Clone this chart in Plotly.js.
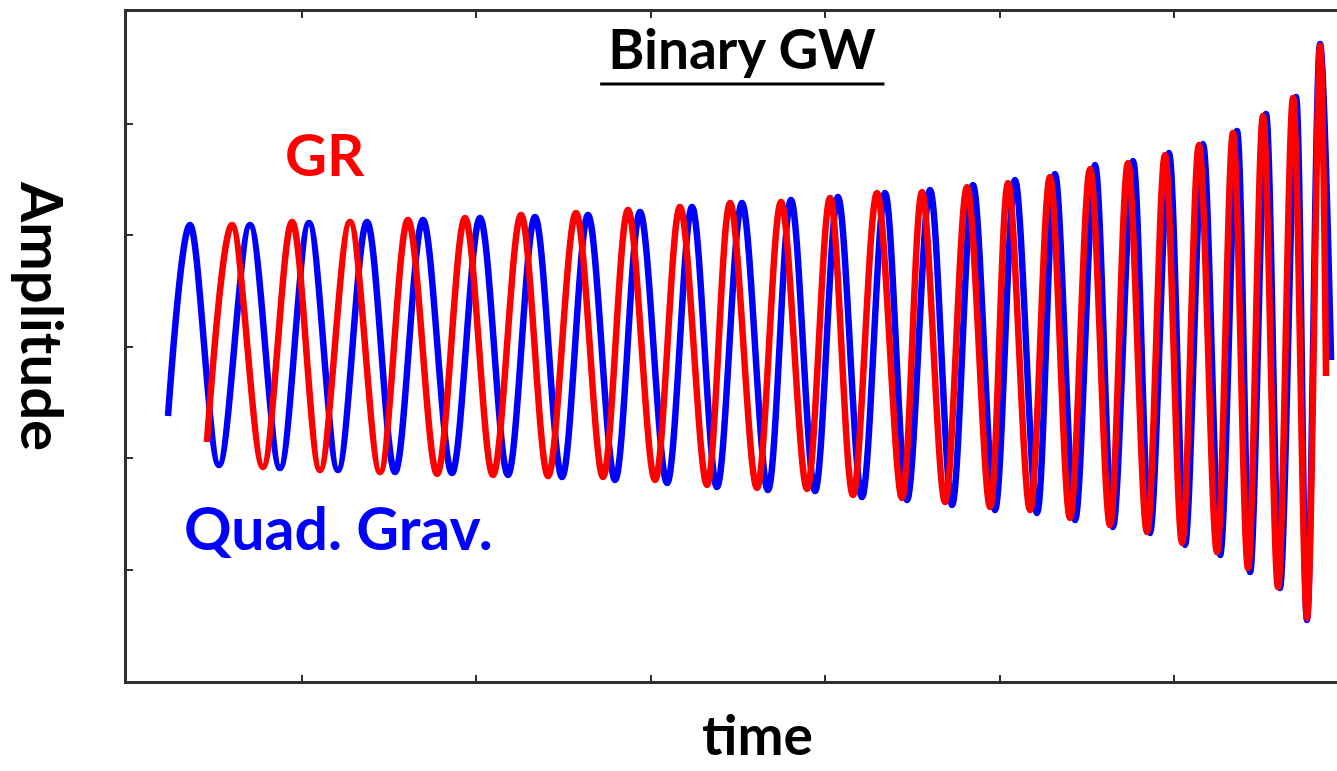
<!DOCTYPE html>
<html>
<head>
<meta charset="utf-8">
<script src="https://cdn.plot.ly/plotly-3.0.1.min.js"></script>
<style>html,body{margin:0;padding:0;background:#fff;}#chart{width:1337px;height:771px;}</style>
</head>
<body>
<div id="chart"></div>
<script>
// Quadratic gravity waveform: extrema (time, amplitude)
const quadTime = [0.235,0.361,0.527,0.705,0.877,1.043,1.209,1.375,1.536,1.696,1.862,2.023,2.183,2.338,2.493,2.642,2.797,2.940,3.095,3.238,3.381,3.524,3.673,3.805,3.943,4.074,4.212,4.344,4.470,4.602,4.728,4.848,4.974,5.089,5.215,5.318,5.433,5.547,5.650,5.765,5.862,5.971,6.063,6.166,6.264,6.361,6.436,6.527,6.607,6.699,6.762,6.837,6.900];
const quadAmp  = [-0.623,1.090,-1.063,1.090,-1.090,1.108,-1.108,1.117,-1.126,1.135,-1.135,1.152,-1.152,1.161,-1.170,1.179,-1.197,1.206,-1.224,1.251,-1.260,1.287,-1.287,1.314,-1.296,1.341,-1.350,1.377,-1.377,1.404,-1.422,1.448,-1.466,1.493,-1.493,1.547,-1.556,1.628,-1.619,1.664,-1.673,1.735,-1.780,1.816,-1.870,1.933,-2.022,2.085,-2.166,2.238,-2.453,2.713,-0.121];

// General relativity waveform
const grTime = [0.458,0.602,0.779,0.946,1.106,1.278,1.450,1.610,1.777,1.937,2.097,2.258,2.413,2.573,2.728,2.871,3.026,3.169,3.324,3.456,3.610,3.748,3.897,4.029,4.160,4.298,4.441,4.556,4.688,4.814,4.946,5.049,5.175,5.289,5.404,5.519,5.633,5.736,5.845,5.948,6.046,6.143,6.246,6.338,6.424,6.510,6.596,6.682,6.762,6.837,6.871];
const grAmp  = [-0.857,1.090,-1.081,1.117,-1.108,1.117,-1.126,1.135,-1.143,1.152,-1.152,1.179,-1.161,1.197,-1.170,1.224,-1.197,1.251,-1.242,1.287,-1.269,1.296,-1.278,1.332,-1.332,1.377,-1.359,1.386,-1.395,1.430,-1.439,1.466,-1.466,1.520,-1.538,1.592,-1.601,1.646,-1.664,1.717,-1.762,1.807,-1.843,1.915,-1.987,2.067,-2.157,2.229,-2.435,2.695,-0.265];

const xTicks = [1,2,3,4,5,6];
const yTicks = [-2,-1,0,1,2];

const FONT = 'Lato, "Open Sans", "Noto Sans", sans-serif';
const AX = '#303030';

const traces = [
  {x: quadTime, y: quadAmp, mode: 'lines', name: 'Quad. Grav.',
   line: {color: '#0000ff', width: 6.5, shape: 'spline', smoothing: 1}},
  {x: grTime, y: grAmp, mode: 'lines', name: 'GR',
   line: {color: '#ff0000', width: 6.5, shape: 'spline', smoothing: 1}}
];

const layout = {
  width: 1337, height: 771,
  margin: {l: 127, r: 0, t: 12, b: 90},
  paper_bgcolor: '#ffffff', plot_bgcolor: '#ffffff',
  showlegend: false,
  font: {family: FONT, color: '#000'},
  title: {text: '<b>Binary GW</b>', font: {family: FONT, size: 55, color: '#000'},
          xref: 'container', yref: 'container', x: 0.555, y: 0.936, xanchor: 'center', yanchor: 'middle'},
  xaxis: {range: [0, 6.934], tickvals: xTicks, showticklabels: false, ticks: 'inside', ticklen: 6, tickwidth: 2,
          tickcolor: AX, showline: true, linecolor: AX, linewidth: 3, mirror: 'ticks',
          showgrid: false, zeroline: false, fixedrange: true},
  yaxis: {range: [-3, 3], tickvals: yTicks, showticklabels: false, ticks: 'inside', ticklen: 6, tickwidth: 2,
          tickcolor: AX, showline: true, linecolor: AX, linewidth: 3, mirror: false,
          showgrid: false, zeroline: false, fixedrange: true},
  shapes: [
    {type: 'line', xref: 'paper', yref: 'paper', x0: 0.391, x1: 0.626, y0: 0.8924, y1: 0.8924,
     line: {color: '#000', width: 3}}
  ],
  annotations: [
    {text: '<b>GR</b>', xref: 'paper', yref: 'paper', x: 0.1636, y: 0.788, xanchor: 'center', yanchor: 'middle',
     showarrow: false, font: {family: FONT, size: 58, color: '#ff0000'}},
    {text: '<b>Quad. Grav.</b>', xref: 'paper', yref: 'paper', x: 0.1744, y: 0.2287, xanchor: 'center', yanchor: 'middle',
     showarrow: false, font: {family: FONT, size: 59, color: '#0000ff'}},
    {text: '<b>Amplitude</b>', xref: 'paper', yref: 'paper', x: -0.0694, y: 0.5456, xanchor: 'center', yanchor: 'middle',
     textangle: 90, showarrow: false, font: {family: FONT, size: 58, color: '#000'}},
    {text: '<b>time</b>', xref: 'paper', yref: 'paper', x: 0.5207, y: -0.0792, xanchor: 'center', yanchor: 'middle',
     showarrow: false, font: {family: FONT, size: 55, color: '#000'}}
  ]
};

Plotly.newPlot('chart', traces, layout, {displayModeBar: false, staticPlot: true});
</script>
</body>
</html>
